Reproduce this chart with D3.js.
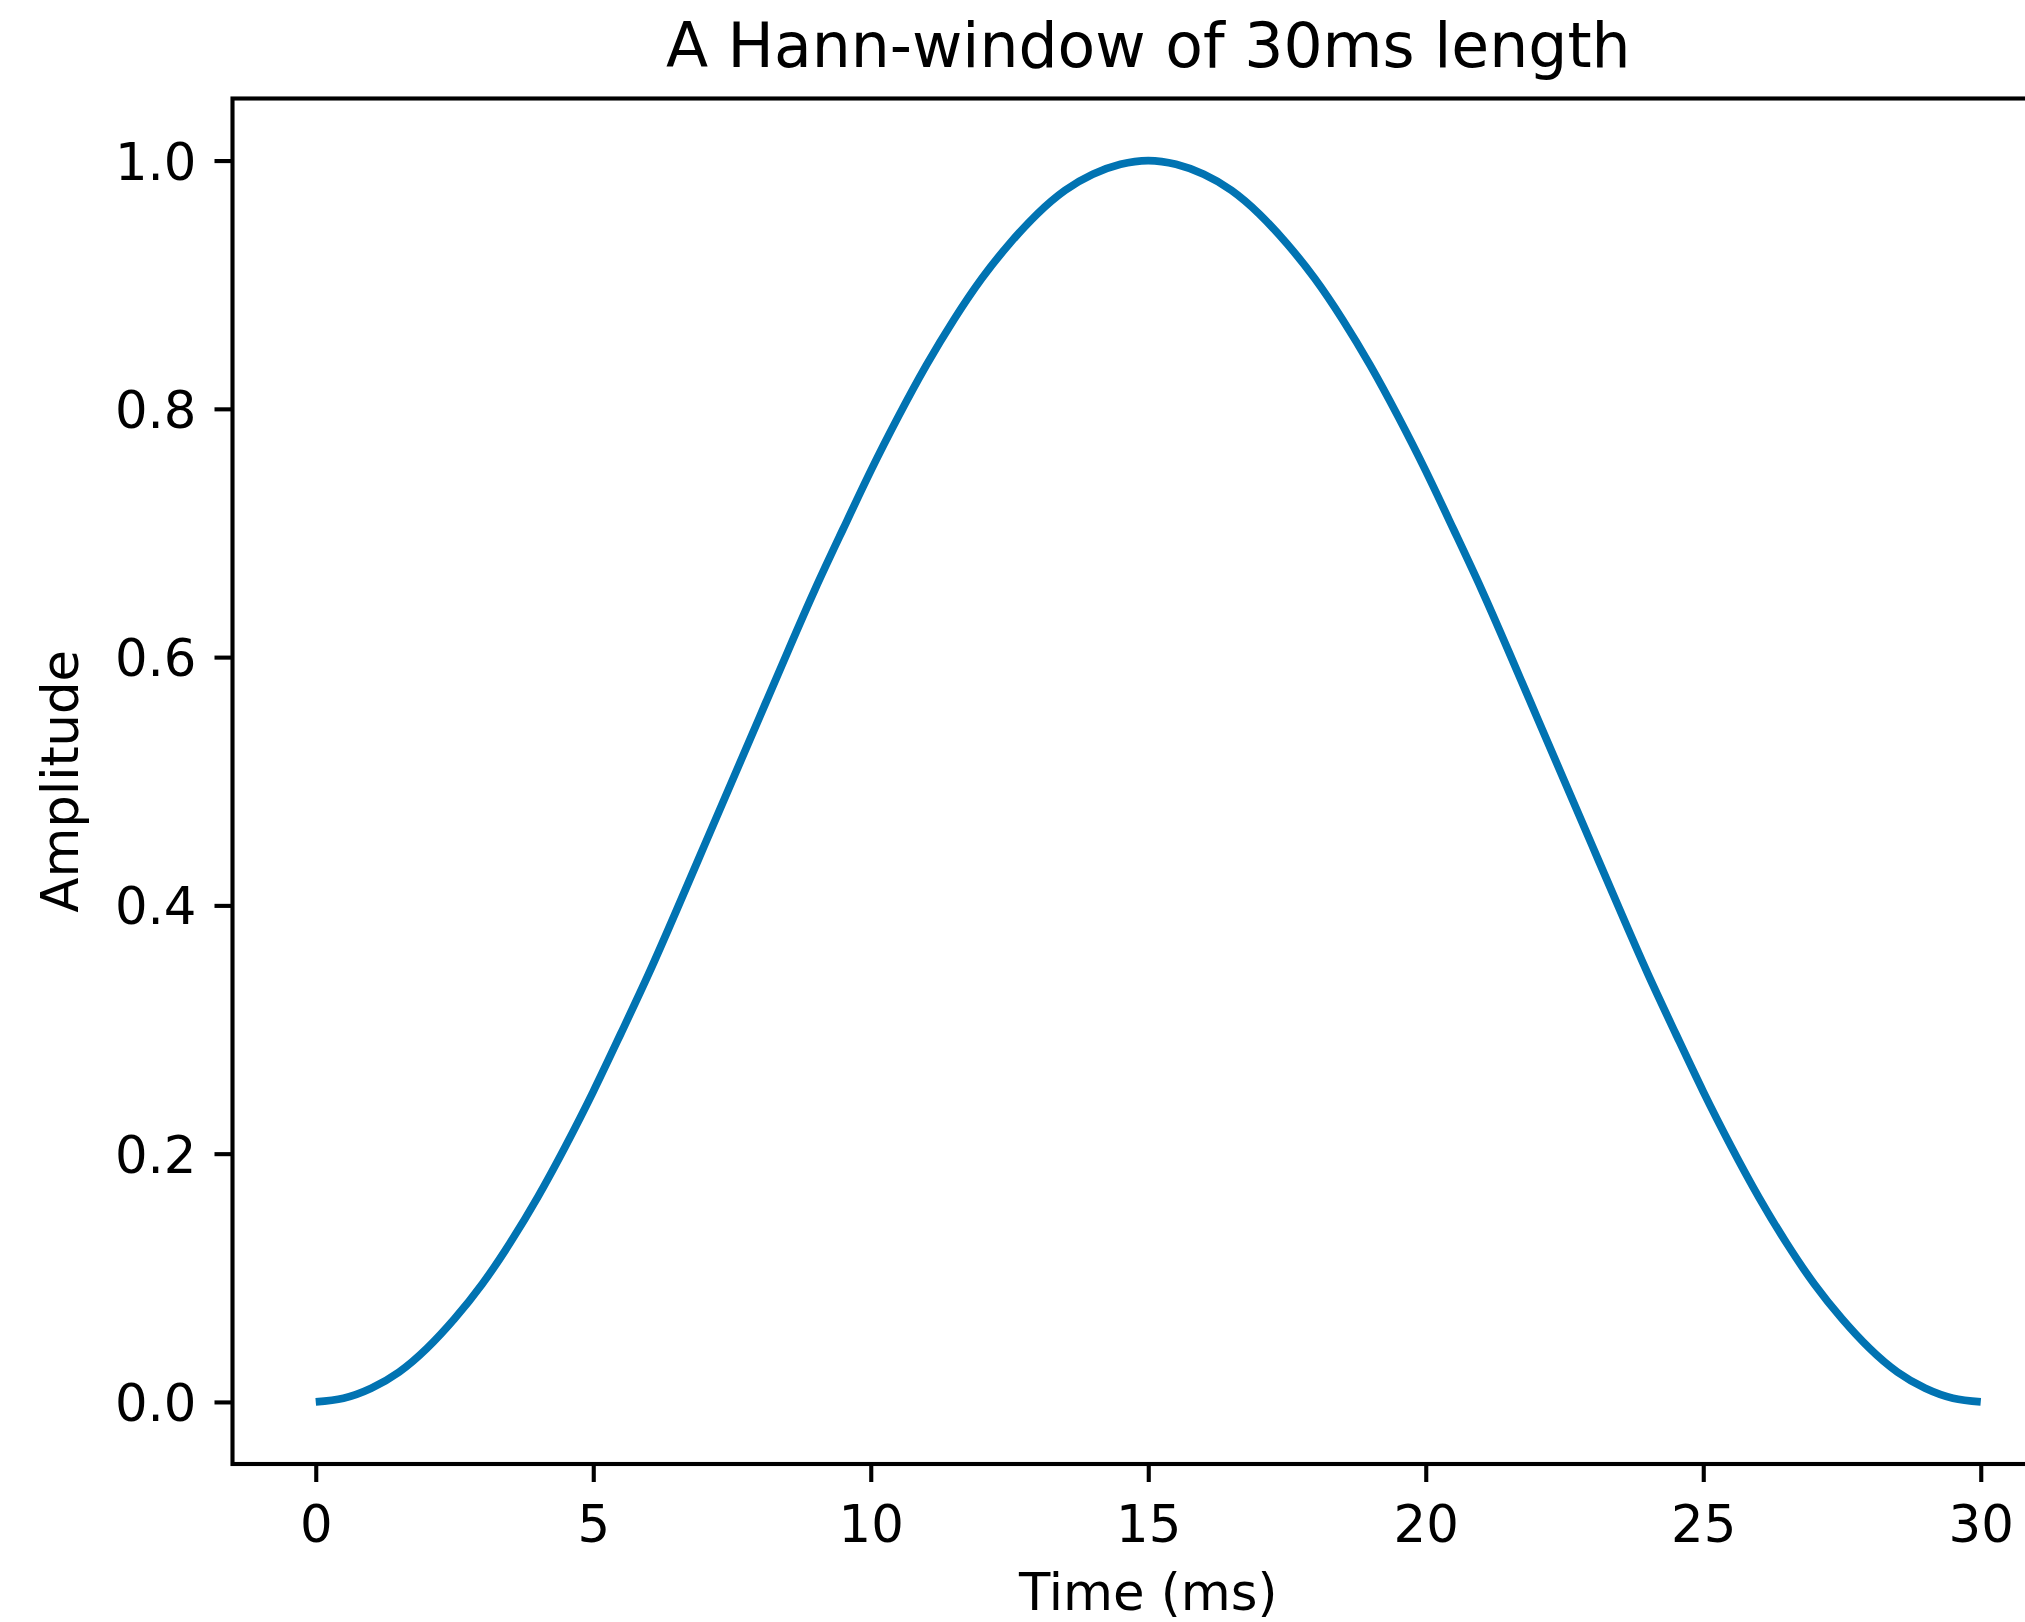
<!DOCTYPE html>
<html>
<head>
<meta charset="utf-8">
<script src="https://cdn.jsdelivr.net/npm/d3@7"></script>
<style>
html,body{margin:0;padding:0;background:#fff;overflow:hidden;}
svg{display:block;}
text{font-family:"DejaVu Sans",sans-serif;fill:#000;}
</style>
</head>
<body>
<svg id="chart" width="2025" height="1622"></svg>
<script>
const timeMs = [0,0.5,1,1.5,2,2.5,3,3.5,4,4.5,5,5.5,6,6.5,7,7.5,8,8.5,9,9.5,10,10.5,11,11.5,12,12.5,13,13.5,14,14.5,15,
  15.5,16,16.5,17,17.5,18,18.5,19,19.5,20,20.5,21,21.5,22,22.5,23,23.5,24,24.5,25,25.5,26,26.5,27,27.5,28,28.5,29,29.5,30];
const amplitude = [0,0.003,0.011,0.024,0.043,0.067,0.095,0.128,0.165,0.206,0.25,0.297,0.345,0.396,0.448,0.5,0.552,0.604,0.655,0.703,0.75,0.794,0.835,0.872,0.905,0.933,0.957,0.976,0.989,0.997,1.0,
  0.997,0.989,0.976,0.957,0.933,0.905,0.872,0.835,0.794,0.75,0.703,0.655,0.604,0.552,0.5,0.448,0.396,0.345,0.297,0.25,0.206,0.165,0.128,0.095,0.067,0.043,0.024,0.011,0.003,0];
const xTicks = [0,5,10,15,20,25,30];
const yTicks = [0.0,0.2,0.4,0.6,0.8,1.0];
const titleText = "A Hann-window of 30ms length";
const xLabelText = "Time (ms)";
const yLabelText = "Amplitude";

(function () {
const svg = d3.select("#chart");
const pL = 232.5, pR = 2064, pT = 98.5, pB = 1464;
const x = d3.scaleLinear().domain([-1.5, 31.5]).range([pL, pR]);
const y = d3.scaleLinear().domain([-0.05, 1.05]).range([pB, pT]);

const data = timeMs.map((t, i) => ({t, a: amplitude[i]}));

// line
const lineGen = d3.line().x(d => x(d.t)).y(d => y(d.a)).curve(d3.curveNatural);
svg.append("path")
  .datum(data)
  .attr("fill", "none")
  .attr("stroke", "#0173b2")
  .attr("stroke-width", 7.7)
  .attr("d", lineGen);

// spines
svg.append("rect")
  .attr("x", pL).attr("y", pT)
  .attr("width", pR - pL).attr("height", pB - pT)
  .attr("fill", "none").attr("stroke", "#000").attr("stroke-width", 4.1);

// x axis
const xAxis = d3.axisBottom(x).tickValues(xTicks).tickFormat(d3.format("d"))
  .tickSizeInner(18).tickSizeOuter(0).tickPadding(18);
const gx = svg.append("g").attr("transform", `translate(0,${pB})`).call(xAxis);
gx.select(".domain").remove();
gx.selectAll(".tick line").attr("stroke", "#000").attr("stroke-width", 4.1);
gx.selectAll(".tick text").attr("font-size", 51.3).attr("font-family", "DejaVu Sans")
  .attr("fill", "#000").attr("dy", null).attr("y", 77.5);

// y axis
const yAxis = d3.axisLeft(y).tickValues(yTicks).tickFormat(d3.format(".1f"))
  .tickSizeInner(18).tickSizeOuter(0).tickPadding(18);
const gy = svg.append("g").attr("transform", `translate(${pL},0)`).call(yAxis);
gy.select(".domain").remove();
gy.selectAll(".tick line").attr("stroke", "#000").attr("stroke-width", 4.1);
gy.selectAll(".tick text").attr("font-size", 51.3).attr("font-family", "DejaVu Sans")
  .attr("fill", "#000").attr("dy", "0.36em");

// title
svg.append("text").attr("x", (pL + pR) / 2).attr("y", 67)
  .attr("text-anchor", "middle").attr("font-size", 61.6).text(titleText);

// x label
svg.append("text").attr("x", (pL + pR) / 2).attr("y", 1610)
  .attr("text-anchor", "middle").attr("font-size", 51.3).text(xLabelText);

// y label
svg.append("text")
  .attr("transform", `translate(78,${(pT + pB) / 2}) rotate(-90)`)
  .attr("text-anchor", "middle").attr("font-size", 51.3).text(yLabelText);
})();
</script>
</body>
</html>
